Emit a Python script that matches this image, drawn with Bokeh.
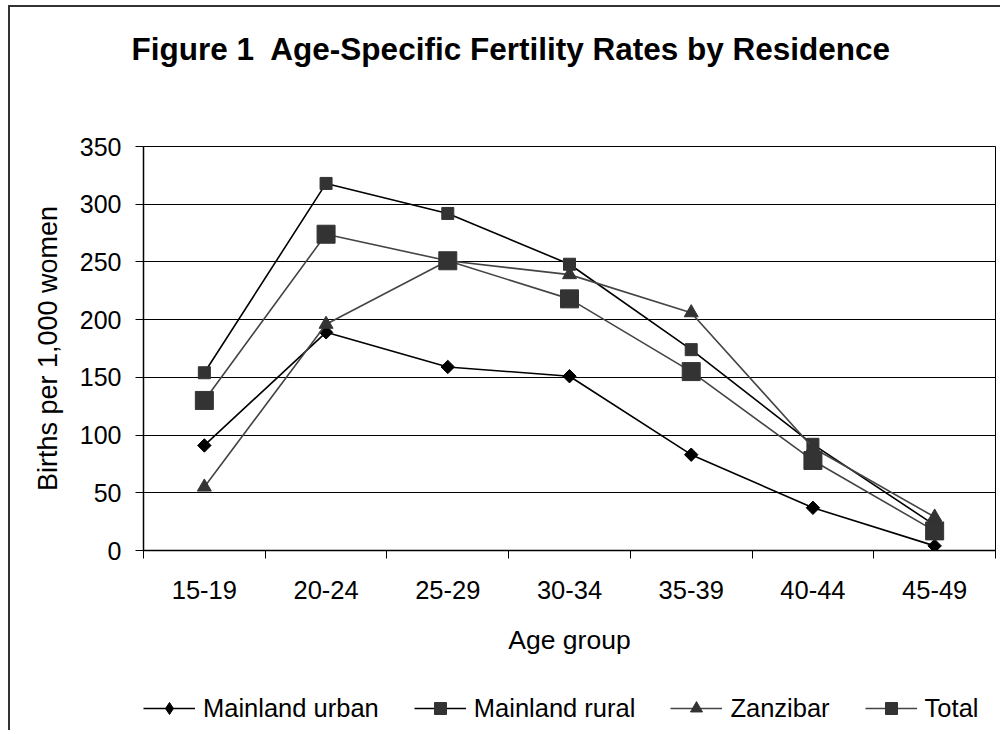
import numpy as np
from bokeh.plotting import figure
from bokeh.layouts import column
from bokeh.models import (Range1d, FixedTicker, Legend, LegendItem, Title)
from bokeh.embed import file_html
from bokeh.resources import INLINE

# ---- data -------------------------------------------------------------
age_groups = ["15-19", "20-24", "25-29", "30-34", "35-39", "40-44", "45-49"]
mainland_urban = [91, 189, 159, 151, 83, 37, 4]
mainland_rural = [154, 318, 292, 248, 174, 92, 22]
zanzibar = [55, 196, 251, 239, 206, 89, 29]
total = [130, 274, 251, 218, 155, 78, 17]
series_names = ["Mainland urban", "Mainland rural", "Zanzibar", "Total"]
y_ticks = [0, 50, 100, 150, 200, 250, 300, 350]
title_text = "Figure 1\u00a0 Age-Specific Fertility Rates by Residence"
x_label = "Age group"
y_label = "Births per 1,000 women"

FONT = "Liberation Sans"

n = len(age_groups)
xpos = [i + 0.5 for i in range(n)]

# ---- main chart --------------------------------------------------------
p = figure(width=990, height=663, output_backend="svg", toolbar_location=None,
           x_range=Range1d(0, n), y_range=Range1d(y_ticks[0], y_ticks[-1]),
           min_border_left=133, min_border_right=5, min_border_top=139,
           min_border_bottom=120, background_fill_color="white",
           border_fill_color="white", title=None)

p.outline_line_color = "black"
p.outline_line_width = 1
p.xgrid.visible = False
p.ygrid.grid_line_color = "black"
p.ygrid.grid_line_width = 1
p.ygrid.ticker = FixedTicker(ticks=y_ticks)

# x axis
xa = p.xaxis[0]
xa.ticker = FixedTicker(ticks=xpos, minor_ticks=list(range(n + 1)))
xa.major_label_overrides = {x: lab for x, lab in zip(xpos, age_groups)}
xa.major_tick_line_color = None
xa.minor_tick_line_color = "black"
xa.minor_tick_line_width = 1
xa.minor_tick_in = 0
xa.minor_tick_out = 8
xa.axis_line_color = "black"
xa.axis_line_width = 1.5
xa.major_label_text_font = FONT
xa.major_label_text_font_size = "25.5px"
xa.major_label_text_color = "black"
xa.major_label_standoff = 22
xa.axis_label = x_label
xa.axis_label_text_font = FONT
xa.axis_label_text_font_size = "26.5px"
xa.axis_label_text_font_style = "normal"
xa.axis_label_text_color = "black"
xa.axis_label_standoff = 23

# y axis
ya = p.yaxis[0]
ya.ticker = FixedTicker(ticks=y_ticks)
ya.major_tick_line_color = "black"
ya.major_tick_line_width = 1
ya.major_tick_in = 0
ya.major_tick_out = 8
ya.minor_tick_line_color = None
ya.axis_line_color = "black"
ya.axis_line_width = 1.5
ya.major_label_text_font = FONT
ya.major_label_text_font_size = "25px"
ya.major_label_text_color = "black"
ya.major_label_standoff = 14
ya.axis_label = y_label
ya.axis_label_text_font = FONT
ya.axis_label_text_font_size = "27px"
ya.axis_label_text_font_style = "normal"
ya.axis_label_text_color = "black"
ya.axis_label_standoff = 14

# title: spacer (next to the frame) then the title text
p.add_layout(Title(text="\u00a0", text_font_size="1px", standoff=77), "above")
p.add_layout(Title(text=title_text, text_font=FONT, text_font_style="bold",
                   text_font_size="31.5px", text_color="black", align="left",
                   offset=-12, standoff=0), "above")

styles = [
    dict(data=mainland_urban, line="black", marker="square", angle=np.pi / 4,
         size=9.5, fill="black", legend_marker="diamond"),
    dict(data=mainland_rural, line="black", marker="square", angle=0,
         size=12, fill="#333333", legend_marker="square"),
    dict(data=zanzibar, line="#444444", marker="triangle", angle=0,
         size=14, fill="#333333", legend_marker="triangle"),
    dict(data=total, line="#444444", marker="square", angle=0,
         size=18, fill="#333333", legend_marker="square"),
]

for st in styles:
    p.line(xpos, st["data"], line_color=st["line"], line_width=1.6)
    p.scatter(xpos, st["data"], marker=st["marker"], size=st["size"],
              angle=st["angle"], fill_color=st["fill"], line_color=st["fill"],
              line_width=1)

# ---- legend strip (separate canvas below the chart) ---------------------
q = figure(width=990, height=60, output_backend="svg", toolbar_location=None,
           x_range=Range1d(0, n), y_range=Range1d(-1001, -1000),
           x_axis_location=None, y_axis_location=None, title=None,
           min_border_left=0, min_border_right=0, min_border_top=0,
           min_border_bottom=0, background_fill_color="white",
           border_fill_color="white")
q.grid.visible = False
q.outline_line_color = None

items = []
for name, st in zip(series_names, styles):
    rl = q.line(xpos, st["data"], line_color=st["line"], line_width=1.6)
    rs = q.scatter(xpos, st["data"], marker=st["legend_marker"], size=12,
                   fill_color=st["fill"], line_color=st["fill"])
    items.append(LegendItem(label=name, renderers=[rl, rs]))

legend = Legend(items=items, orientation="horizontal", location=(0, 7),
                glyph_width=52, glyph_height=30, label_standoff=8, spacing=35,
                padding=0, margin=0, border_line_alpha=0,
                background_fill_alpha=0, label_text_font=FONT,
                label_text_font_size="25.5px", label_text_color="black")
q.add_layout(legend)

layout = column(p, q, spacing=0)
layout.margin = (5, 0, 0, 8)
layout.styles = {"border-left": "2px solid #333333",
                 "border-top": "2px solid #333333"}

open("out.html", "w").write(file_html(layout, INLINE))
